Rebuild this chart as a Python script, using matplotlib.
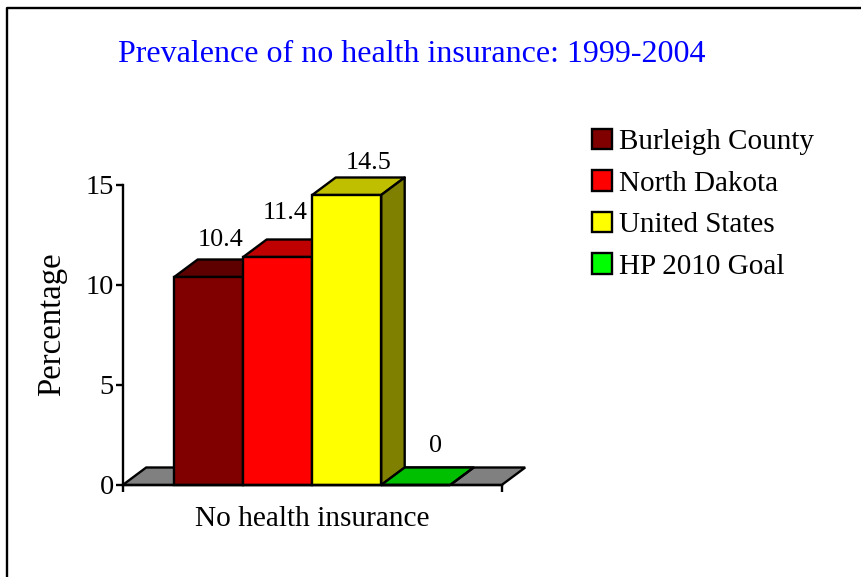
import matplotlib
matplotlib.use("Agg")
import matplotlib.pyplot as plt
from matplotlib.lines import Line2D
from matplotlib.patches import Patch, Polygon

W, H = 861, 577

# chart data
categories = ["No health insurance"]
series = ["Burleigh County", "North Dakota", "United States", "HP 2010 Goal"]
values = [10.4, 11.4, 14.5, 0]
yticks = [0, 5, 10, 15]

front_colors = ["#800000", "#ff0000", "#ffff00", "#00ff00"]
top_colors = ["#5e0000", "#bf0000", "#bfbf00", "#00bf00"]
side_colors = ["#400000", "#800000", "#808000", "#008000"]

# label shift from the bar's center, in pixels
label_dx = [11.5, 7.5, 22, 20]
label_dy = [26, 33, 21, 28]

plt.rcParams["font.family"] = ["Liberation Serif", "DejaVu Serif"]
LW = 1.7
BAR_W = 69 / 379
DX = 23.5 / 379
DY = 17.5 / 20


def px_rect(left, top, right, bottom):
    """figure fraction rectangle from pixel edges"""
    return [left / W, 1 - bottom / H, (right - left) / W, (bottom - top) / H]


fig = plt.figure(figsize=(W / 100, H / 100), dpi=100)

# outer frame, only left and top show
fig.add_artist(Line2D([6.5 / W, 6.5 / W, 1], [0, 1 - 7.5 / H, 1 - 7.5 / H],
                      color="black", lw=LW, transform=fig.transFigure))

ax = fig.add_axes(px_rect(122.7, 185, 501.7, 485))
ax.set_xlim(-0.5, 0.5)
ax.set_ylim(0, 15)
ax.patch.set_alpha(0)
for name in ["top", "right", "bottom"]:
    ax.spines[name].set_visible(False)
ax.spines["left"].set_linewidth(LW)
ax.spines["left"].set_zorder(1)

ax.set_yticks(yticks)
ax.tick_params(axis="y", which="major", length=5, width=LW, labelsize=20.5, pad=1.5)
ax.set_xticks([0])
ax.set_xticklabels(categories, fontsize=21.2)
ax.set_xticks([-0.5, 0.5], minor=True)
ax.tick_params(axis="x", which="major", length=0, pad=15)
ax.tick_params(axis="x", which="minor", length=5, width=LW)
ax.set_ylabel("Percentage", fontsize=23.6)
ax.yaxis.set_label_coords(-0.147, 0.535)

# floor
ax.add_patch(Polygon([(-0.5, 0), (0.5, 0), (0.5 + DX, DY), (-0.5 + DX, DY)],
                     closed=True, fc="#808080", ec="black", lw=LW,
                     clip_on=False, zorder=2))

# bars, left to right so every bar covers its neighbour's side
start = -BAR_W * len(values) / 2
for i, v in enumerate(values):
    x0 = start + i * BAR_W
    x1 = x0 + BAR_W
    z = 3 + i
    ax.add_patch(Polygon([(x0, v), (x1, v), (x1 + DX, v + DY), (x0 + DX, v + DY)],
                         closed=True, fc=top_colors[i], ec="black", lw=LW,
                         joinstyle="round", clip_on=False, zorder=z))
    ax.add_patch(Polygon([(x1, 0), (x1, v), (x1 + DX, v + DY), (x1 + DX, DY)],
                         closed=True, fc=side_colors[i], ec="black", lw=LW,
                         joinstyle="round", clip_on=False, zorder=z))
    ax.bar(x0 + BAR_W / 2, v, BAR_W, color=front_colors[i], edgecolor="black",
           linewidth=LW, clip_on=False, zorder=z + 0.5)
    ax.annotate(str(v), (x0 + BAR_W / 2, v), xytext=(label_dx[i] * 0.72, label_dy[i] * 0.72),
                textcoords="offset points", ha="center", va="bottom", fontsize=18.8,
                annotation_clip=False, zorder=10)

# front line of the floor
ax.plot([-0.5, 0.5], [0, 0], color="black", lw=LW, clip_on=False, zorder=9)

fig.text(411.5 / W, 1 - 54 / H, "Prevalence of no health insurance: 1999-2004",
         color="#0000ff", fontsize=23, ha="center", va="center")

handles = [Patch(fc=c, ec="black", lw=LW) for c in front_colors]
fig.legend(handles, series, loc="upper left", bbox_to_anchor=(592 / W, 1 - 129 / H),
           bbox_transform=fig.transFigure, frameon=False, fontsize=21,
           handlelength=0.69, handleheight=0.69, handletextpad=0.25,
           labelspacing=0.52, borderpad=0, borderaxespad=0)

fig.savefig("out.png", dpi=100)
